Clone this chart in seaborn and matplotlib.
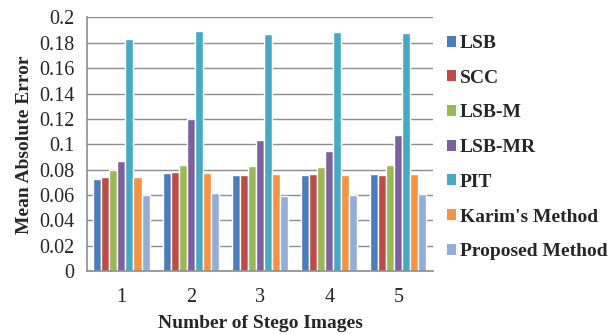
import numpy as np
import pandas as pd
import matplotlib
matplotlib.use("Agg")
import matplotlib.pyplot as plt
import seaborn as sns
from matplotlib.patches import Patch

categories = ["1", "2", "3", "4", "5"]
methods = ["LSB", "SCC", "LSB-M", "LSB-MR", "PIT", "Karim's Method", "Proposed Method"]
lsb = [0.073, 0.077, 0.0756, 0.0758, 0.0769]
scc = [0.074, 0.078, 0.076, 0.0766, 0.0756]
lsb_m = [0.080, 0.0835, 0.083, 0.0819, 0.0835]
lsb_mr = [0.087, 0.120, 0.1034, 0.0945, 0.1073]
pit = [0.183, 0.189, 0.1866, 0.1884, 0.1879]
karim = [0.074, 0.077, 0.0764, 0.0758, 0.0766]
proposed = [0.060, 0.062, 0.0593, 0.0598, 0.0609]
yticks = [0, 0.02, 0.04, 0.06, 0.08, 0.1, 0.12, 0.14, 0.16, 0.18, 0.2]
ytick_labels = ["0", "0.02", "0.04", "0.06", "0.08", "0.1", "0.12", "0.14", "0.16", "0.18", "0.2"]
colors = ["#4A7EBB", "#BE4B48", "#98B954", "#7D60A0", "#46AAC5", "#F69240", "#93AED6"]

series = [lsb, scc, lsb_m, lsb_mr, pit, karim, proposed]
rows = []
for m, vals in zip(methods, series):
    for c, v in zip(categories, vals):
        rows.append({"image": c, "method": m, "mae": v})
df = pd.DataFrame(rows)

sns.set_style("white")
plt.rcParams["font.family"] = ["Liberation Serif", "DejaVu Serif"]

fig = plt.figure(figsize=(6.16, 3.34), dpi=100)
ax = fig.add_axes([0.141, 0.188, 0.562, 0.760])

sns.barplot(data=df, x="image", y="mae", hue="method", order=categories,
            hue_order=methods, palette=colors, saturation=1, width=0.81,
            ax=ax, legend=False, errorbar=None)

ax.set_ylim(0, 0.2)
ax.set_xlim(-0.5, 4.5)
ax.set_yticks(yticks)
ax.set_yticklabels(ytick_labels, fontsize=14.5)
ax.yaxis.grid(True, color="#8C8C8C", linewidth=1.0)
ax.set_axisbelow(True)
ax.set_xticks(range(len(categories)))
ax.set_xticklabels(categories, fontsize=14.5)
ax.tick_params(axis="x", length=0, pad=12)
ax.set_xticks(np.arange(-0.5, 5.0, 1.0), minor=True)
ax.tick_params(axis="x", which="minor", length=5, color="#8C8C8C", width=1, direction="out")
ax.tick_params(axis="y", length=5, color="#8C8C8C", width=1, direction="out", pad=4)
for s in ["top", "right"]:
    ax.spines[s].set_visible(False)
for s in ["left", "bottom"]:
    ax.spines[s].set_color("#8C8C8C")
    ax.spines[s].set_linewidth(1.2)

ax.set_xlabel("Number of Stego Images", fontsize=14, fontweight="bold", labelpad=6)
ax.set_ylabel("Mean Absolute Error", fontsize=14, fontweight="bold", labelpad=4)

handles = [Patch(facecolor=c, edgecolor="none") for c in colors]
fig.legend(handles, methods, loc="upper left", bbox_to_anchor=(0.726, 0.895),
           frameon=False, prop={"weight": "bold", "size": 14},
           handlelength=0.45, handleheight=0.5, handletextpad=0.2,
           labelspacing=0.91, borderaxespad=0, borderpad=0)

fig.savefig("out.png", dpi=100)
